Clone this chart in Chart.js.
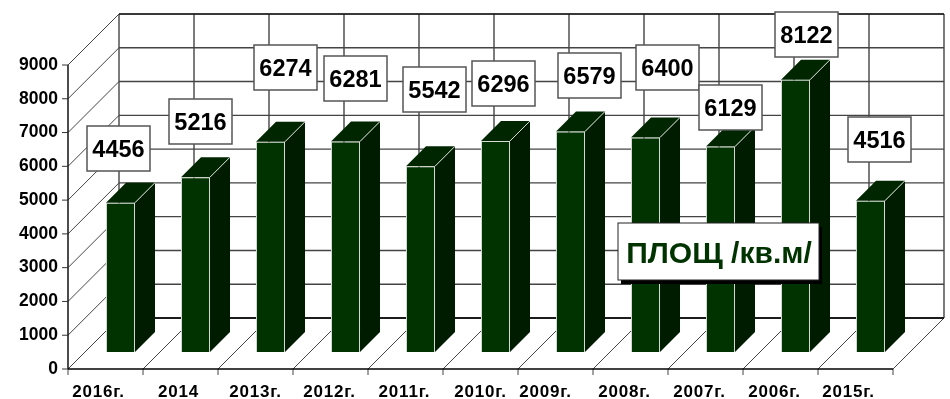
<!DOCTYPE html>
<html>
<head>
<meta charset="utf-8">
<style>
  html, body { margin: 0; padding: 0; background: #fff; }
  #wrap { width: 950px; height: 399px; }
</style>
<script src="https://cdn.jsdelivr.net/npm/chart.js@4/dist/chart.umd.min.js"></script>
</head>
<body>
<div id="wrap"><canvas id="areaChart" width="950" height="399"></canvas></div>
<script>
// data
const categories = ['2016г.', '2014', '2013г.', '2012г.', '2011г.', '2010г.', '2009г.', '2008г.', '2007г.', '2006г.', '2015г.'];
const areaValues = [4456, 5216, 6274, 6281, 5542, 6296, 6579, 6400, 6129, 8122, 4516];
const seriesName = 'ПЛОЩ /кв.м/';

// layout of the fake 3D box
const WALL_DEPTH = 51;
const BAR_SHIFT_X = 15;
const BAR_SHIFT_Y = 17;
const BAR_DEPTH = 20;
const labelBoxes = [[87, 126], [169, 99], [254, 45], [324, 56], [403, 67], [472, 61], [558, 53], [636, 45], [699, 85], [775, 12], [848, 117]];
const tickShifts = [-7, -2, 0, -1, -1, 0, -10, -6, -6, -6, -7];

const GRID = '#444';
const FRONT = '#003300';
const SIDE = '#001c00';
const TOP = '#002600';
const EDGE = '#d5dcd5';

function line(ctx, x1, y1, x2, y2, color, w) {
    ctx.strokeStyle = color;
    ctx.lineWidth = w;
    ctx.beginPath();
    ctx.moveTo(x1, y1);
    ctx.lineTo(x2, y2);
    ctx.stroke();
}

function poly(ctx, pts, fill) {
    ctx.fillStyle = fill;
    ctx.beginPath();
    pts.forEach((p, i) => i ? ctx.lineTo(p[0], p[1]) : ctx.moveTo(p[0], p[1]));
    ctx.closePath();
    ctx.fill();
}

const box3d = {
    id: 'box3d',
    beforeDatasetsDraw(chart) {
        const { ctx, scales: { x, y } } = chart;
        const y0 = y.getPixelForValue(0);
        const yTop = y.getPixelForValue(9000);
        const ticks = y.ticks.map(t => y.getPixelForValue(t.value));
        const xs = categories.map((c, i) => x.left + (x.right - x.left) * i / categories.length).concat(x.right);

        ctx.save();
        // back wall and side wall
        ticks.forEach(py => {
            line(ctx, x.left, py, x.left + WALL_DEPTH, py - WALL_DEPTH, GRID, 1);
            line(ctx, x.left + WALL_DEPTH, py - WALL_DEPTH, x.right + WALL_DEPTH, py - WALL_DEPTH, GRID, 1.4);
        });
        xs.forEach(px => {
            line(ctx, px + WALL_DEPTH, yTop - WALL_DEPTH, px + WALL_DEPTH, y0 - WALL_DEPTH, GRID, 1.4);
            line(ctx, px, y0, px + WALL_DEPTH, y0 - WALL_DEPTH, GRID, 1);
            line(ctx, px, y0, px, y0 + 6, GRID, 1);
        });
        line(ctx, x.left + WALL_DEPTH, y0 - WALL_DEPTH, x.right + WALL_DEPTH, y0 - WALL_DEPTH, '#000', 1.5);
        line(ctx, x.left + WALL_DEPTH, yTop - WALL_DEPTH, x.right + WALL_DEPTH, yTop - WALL_DEPTH, '#000', 1.2);
        line(ctx, x.left, yTop, x.left, y0, '#000', 1.4);
        line(ctx, x.left, y0, x.right, y0, '#000', 1.4);
        ticks.forEach(py => line(ctx, x.left - 6, py, x.left, py, '#333', 1));

        // side and top faces of the bars, the fronts come from the library
        ctx.translate(BAR_SHIFT_X, -BAR_SHIFT_Y);
        chart.getDatasetMeta(0).data.forEach(bar => {
            const l = bar.x - bar.width / 2;
            const r = bar.x + bar.width / 2;
            poly(ctx, [[r, bar.y], [r + BAR_DEPTH, bar.y - BAR_DEPTH], [r + BAR_DEPTH, bar.base - BAR_DEPTH], [r, bar.base]], SIDE);
            poly(ctx, [[l, bar.y], [l + BAR_DEPTH, bar.y - BAR_DEPTH], [r + BAR_DEPTH, bar.y - BAR_DEPTH], [r, bar.y]], TOP);
            line(ctx, r, bar.y, r + BAR_DEPTH, bar.y - BAR_DEPTH, EDGE, 1);
        });
        // stays translated for the bars, restored in afterDatasetsDraw
    },
    afterDatasetsDraw(chart) {
        const { ctx, scales: { x, y } } = chart;
        ctx.restore();

        // x labels sit a bit off the slot centres in the original
        ctx.save();
        ctx.font = 'bold 17px "Liberation Sans", Arial, sans-serif';
        ctx.letterSpacing = '0.8px';
        ctx.fillStyle = '#000';
        ctx.textAlign = 'center';
        ctx.textBaseline = 'alphabetic';
        categories.forEach((c, i) => {
            ctx.fillText(c, x.getPixelForTick(i) + tickShifts[i], y.bottom + 28);
        });
        ctx.letterSpacing = '0px';

        // value boxes
        areaValues.forEach((v, i) => {
            const [bx, by] = labelBoxes[i];
            ctx.fillStyle = '#fff';
            ctx.fillRect(bx, by, 63, 45);
            ctx.strokeStyle = '#555';
            ctx.lineWidth = 1.5;
            ctx.strokeRect(bx, by, 63, 45);
            ctx.fillStyle = '#000';
            ctx.font = 'bold 23.5px "Liberation Sans", Arial, sans-serif';
            ctx.textAlign = 'center';
            ctx.fillText(String(v), bx + 31.5, by + 31);
        });

        // series box with shadow
        ctx.fillStyle = '#000';
        ctx.fillRect(621, 227, 201, 57);
        ctx.fillStyle = '#fff';
        ctx.fillRect(618, 223, 201, 57);
        ctx.strokeStyle = '#222';
        ctx.lineWidth = 1;
        ctx.strokeRect(618, 223, 201, 57);
        ctx.fillStyle = FRONT;
        ctx.font = 'bold 30px "Liberation Sans", Arial, sans-serif';
        ctx.fillText(seriesName, 719, 263);
        ctx.restore();
    }
};

new Chart(document.getElementById('areaChart'), {
    type: 'bar',
    data: {
        labels: categories,
        datasets: [{
            label: seriesName,
            data: areaValues,
            yAxisID: 'yBars',
            backgroundColor: FRONT,
            borderColor: EDGE,
            borderWidth: 1,
            barPercentage: 1,
            categoryPercentage: 0.387,
            clip: false
        }]
    },
    options: {
        responsive: false,
        animation: false,
        layout: { padding: { top: 65, right: 57, left: 0, bottom: 0 } },
        plugins: { legend: { display: false }, tooltip: { enabled: false } },
        scales: {
            x: {
                grid: { display: false },
                border: { display: false },
                ticks: { display: false },
                afterFit(scale) { scale.height = 30; }
            },
            y: {
                min: 0,
                max: 9000,
                grid: { display: false },
                border: { display: false },
                ticks: {
                    stepSize: 1000,
                    color: '#000',
                    padding: 2,
                    callback: v => String(v),
                    font: { family: '"Liberation Sans", Arial, sans-serif', size: 17.5, weight: 'bold' }
                },
                afterFit(scale) { scale.width = 68; }
            },
            // bars stand deeper in the box, the original draws them slightly shorter there
            yBars: { display: false, min: 0, max: 9070 }
        }
    },
    plugins: [box3d]
});
</script>
</body>
</html>
